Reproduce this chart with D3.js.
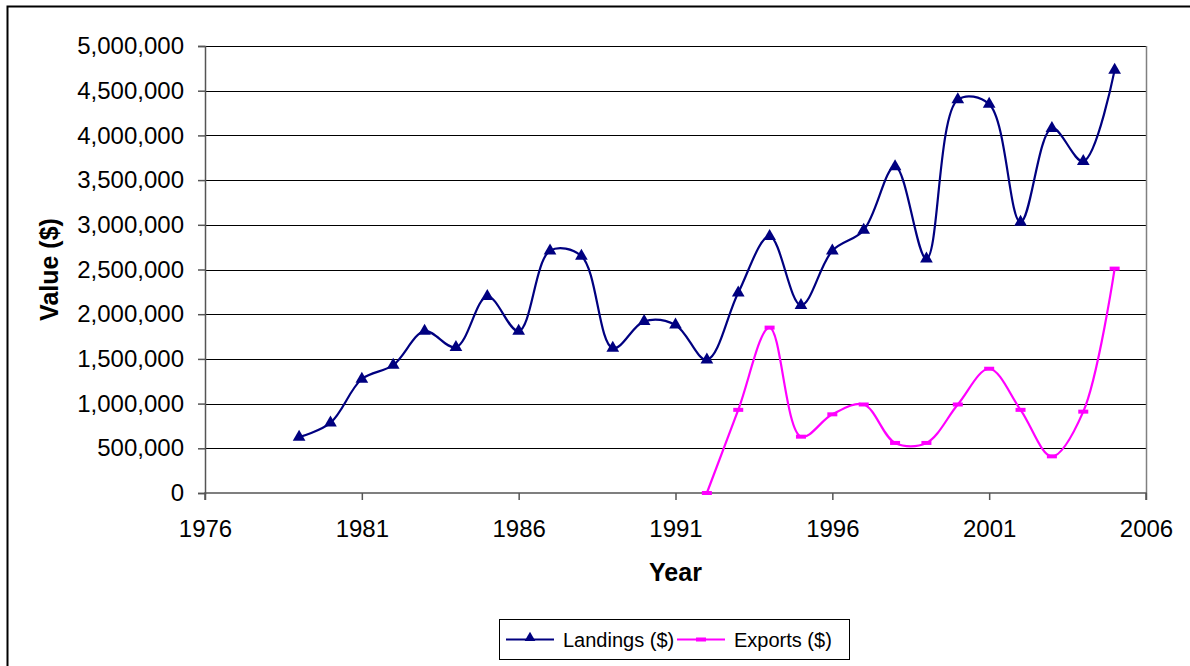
<!DOCTYPE html>
<html>
<head>
<meta charset="utf-8">
<script src="https://cdn.jsdelivr.net/npm/d3@7"></script>
<style>
  body { margin: 0; background: #fff; }
  svg { font-family: "Liberation Sans", Arial, sans-serif; }
</style>
</head>
<body>
<div id="vis-holder"></div>
<script>
// data
const landingYears = [1979, 1980, 1981, 1982, 1983, 1984, 1985, 1986, 1987, 1988, 1989, 1990, 1991,
  1992, 1993, 1994, 1995, 1996, 1997, 1998, 1999, 2000, 2001, 2002, 2003, 2004, 2005];
const landings = [625000, 785000, 1275000, 1430000, 1810000, 1630000, 2200000, 1810000, 2710000, 2650000,
  1620000, 1920000, 1880000, 1490000, 2240000, 2870000, 2100000, 2710000, 2940000, 3650000, 2620000,
  4400000, 4350000, 3030000, 4080000, 3710000, 4730000];
const exportYears = [1992, 1993, 1994, 1995, 1996, 1997, 1998, 1999, 2000, 2001, 2002, 2003, 2004, 2005];
const exportsVal = [0, 930000, 1850000, 630000, 880000, 990000, 560000, 560000, 990000, 1390000,
  930000, 410000, 910000, 2510000];
const xTicks = [1976, 1981, 1986, 1991, 1996, 2001, 2006];
const yTicks = d3.range(0, 5000001, 500000);

const width = 1190, height = 666;
const margin = { top: 46, right: 44, bottom: 173, left: 205 };

const svg = d3.select("#vis-holder")
  .append("svg")
  .attr("width", width)
  .attr("height", height);

// outer chart border
svg.append("rect")
  .attr("x", 7.5).attr("y", 6.5)
  .attr("width", width + 20).attr("height", height + 20)
  .attr("fill", "none").attr("stroke", "#000").attr("stroke-width", 2);

const x = d3.scaleLinear()
  .domain([1976, 2006])
  .range([margin.left, width - margin.right]);

const y = d3.scaleLinear()
  .domain([0, 5000000])
  .range([height - margin.bottom, margin.top]);

// gridlines
svg.append("g")
  .selectAll("line")
  .data(yTicks.filter(d => d > 0))
  .enter()
  .append("line")
  .attr("x1", x(1976)).attr("x2", x(2006))
  .attr("y1", d => Math.round(y(d)) + 0.5).attr("y2", d => Math.round(y(d)) + 0.5)
  .attr("stroke", "#000").attr("stroke-width", 1);

// plot area border (right side)
svg.append("line")
  .attr("x1", Math.round(x(2006)) + 0.5).attr("x2", Math.round(x(2006)) + 0.5)
  .attr("y1", y(5000000)).attr("y2", y(0))
  .attr("stroke", "#808080").attr("stroke-width", 1.5);

const fmt = d3.format(",");

const yAxis = svg.append("g")
  .attr("transform", `translate(${margin.left}, 0)`)
  .call(d3.axisLeft(y).tickValues(yTicks).tickFormat(fmt).tickSize(7).tickPadding(14))
  .attr("font-size", "24px")
  .attr("font-family", "Liberation Sans, Arial, sans-serif");
yAxis.selectAll("line, path").attr("stroke", "#555").attr("stroke-width", 1.5);
yAxis.selectAll("text").attr("fill", "#000");

const xAxis = svg.append("g")
  .attr("transform", `translate(0, ${height - margin.bottom})`)
  .call(d3.axisBottom(x).tickValues(xTicks).tickFormat(d3.format("d")).tickSize(7).tickPadding(20))
  .attr("font-size", "24px")
  .attr("font-family", "Liberation Sans, Arial, sans-serif");
xAxis.selectAll("line, path").attr("stroke", "#555").attr("stroke-width", 1.5);
xAxis.select("path").attr("d", `M${x(1976)},7V0H${x(2006)}V7`);
xAxis.selectAll("text").attr("fill", "#000");

// axis titles
svg.append("text")
  .attr("x", (x(1976) + x(2006)) / 2)
  .attr("y", 581)
  .attr("text-anchor", "middle")
  .attr("font-size", "25px")
  .attr("font-weight", "bold")
  .text("Year");

svg.append("text")
  .attr("transform", `translate(58, ${(y(0) + y(5000000)) / 2}) rotate(-90)`)
  .attr("text-anchor", "middle")
  .attr("font-size", "25px")
  .attr("font-weight", "bold")
  .text("Value ($)");

const curve = d3.curveCatmullRom.alpha(0.5);
const landColor = "#000080", expColor = "#FF00FF";

const landData = landingYears.map((yr, i) => ({ year: yr, value: landings[i] }));
const expData = exportYears.map((yr, i) => ({ year: yr, value: exportsVal[i] }));

const line = d3.line()
  .x(d => x(d.year))
  .y(d => y(d.value))
  .curve(curve);

svg.append("path")
  .datum(landData)
  .attr("d", line)
  .attr("fill", "none")
  .attr("stroke", landColor)
  .attr("stroke-width", 2.2);

svg.append("path")
  .datum(expData)
  .attr("d", line)
  .attr("fill", "none")
  .attr("stroke", expColor)
  .attr("stroke-width", 2.2);

const tri = d3.symbol().type(d3.symbolTriangle).size(70);

svg.selectAll(".land-pt")
  .data(landData)
  .enter()
  .append("path")
  .attr("class", "land-pt")
  .attr("d", tri)
  .attr("transform", d => `translate(${x(d.year)}, ${y(d.value)})`)
  .attr("fill", landColor);

svg.selectAll(".exp-pt")
  .data(expData)
  .enter()
  .append("rect")
  .attr("class", "exp-pt")
  .attr("x", d => x(d.year) - 5)
  .attr("y", d => y(d.value) - 2)
  .attr("width", 10)
  .attr("height", 4)
  .attr("fill", expColor);

// legend
const legend = svg.append("g");
legend.append("rect")
  .attr("x", 499.5).attr("y", 619.5)
  .attr("width", 350).attr("height", 40)
  .attr("fill", "#fff").attr("stroke", "#000").attr("stroke-width", 1);

const items = [
  { label: "Landings ($)", color: landColor, x0: 506, type: "tri" },
  { label: "Exports ($)", color: expColor, x0: 677, type: "dash" }
];

items.forEach(it => {
  legend.append("line")
    .attr("x1", it.x0).attr("x2", it.x0 + 48)
    .attr("y1", 639.5).attr("y2", 639.5)
    .attr("stroke", it.color).attr("stroke-width", 2);
  if (it.type === "tri") {
    legend.append("path")
      .attr("d", d3.symbol().type(d3.symbolTriangle).size(50))
      .attr("transform", `translate(${it.x0 + 24}, 638)`)
      .attr("fill", it.color);
  } else {
    legend.append("rect")
      .attr("x", it.x0 + 19).attr("y", 637.5)
      .attr("width", 10).attr("height", 4)
      .attr("fill", it.color);
  }
  legend.append("text")
    .attr("x", it.x0 + 57)
    .attr("y", 647)
    .attr("font-size", "20px")
    .text(it.label);
});
</script>
</body>
</html>
